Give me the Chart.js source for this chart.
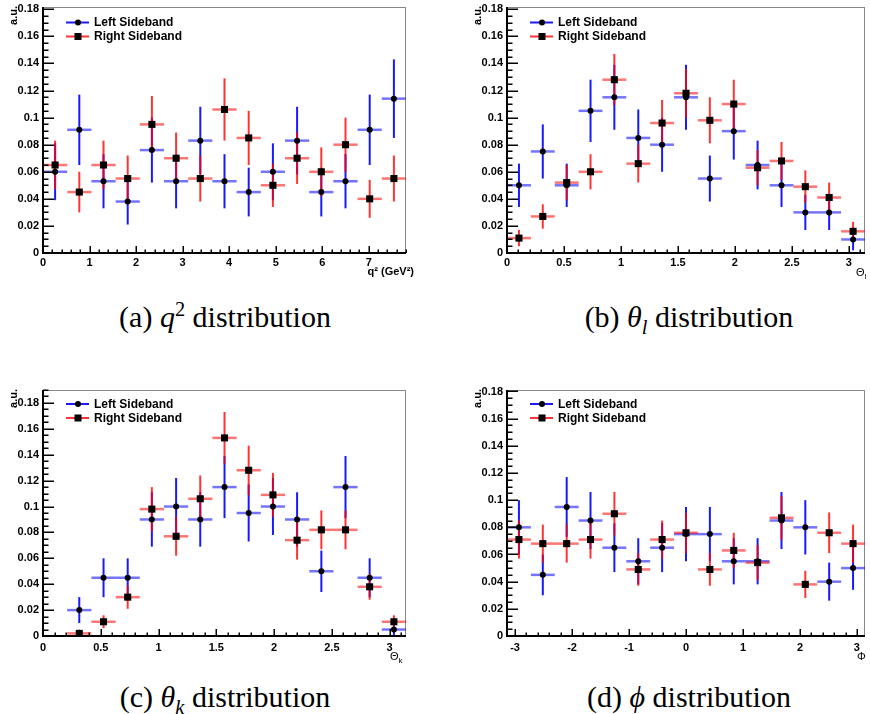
<!DOCTYPE html>
<html>
<head>
<meta charset="utf-8">
<script src="https://cdn.jsdelivr.net/npm/chart.js@4.4.1/dist/chart.umd.min.js"></script>
<style>
  body { margin: 0; background: #fff; width: 870px; height: 714px; position: relative; overflow: hidden; }
  canvas { position: absolute; }
  .cap { position: absolute; font-family: "Liberation Serif", serif; font-size: 30px; line-height: 34px; transform: translate(-50%, -50%); white-space: nowrap; color: #000; }
  .cap sup, .cap sub { font-size: 0.68em; line-height: 0; }
</style>
</head>
<body>
<canvas id="chartQ2" width="420" height="280" style="left:0;top:0"></canvas>
<canvas id="chartThetaL" width="430" height="280" style="left:440px;top:0"></canvas>
<canvas id="chartThetaK" width="420" height="290" style="left:0;top:375px"></canvas>
<canvas id="chartPhi" width="430" height="290" style="left:440px;top:375px"></canvas>

<div class="cap" style="left:225px;top:317px">(a) <i>q</i><sup>2</sup> distribution</div>
<div class="cap" style="left:689px;top:317px">(b) <i>θ<sub>l</sub></i> distribution</div>
<div class="cap" style="left:225px;top:697px">(c) <i>θ<sub>k</sub></i> distribution</div>
<div class="cap" style="left:689px;top:697px">(d) <i>ϕ</i> distribution</div>

<script>
// bin centres
const q2Bins = [0.26, 0.78, 1.30, 1.82, 2.34, 2.86, 3.38, 3.90, 4.42, 4.94, 5.46, 5.98, 6.50, 7.02, 7.54];
const thetaBins = [0.105, 0.314, 0.524, 0.733, 0.942, 1.152, 1.361, 1.571, 1.780, 1.990, 2.199, 2.409, 2.618, 2.827, 3.037];
const phiBins = [-2.932, -2.513, -2.094, -1.676, -1.257, -0.838, -0.419, 0, 0.419, 0.838, 1.257, 1.676, 2.094, 2.513, 2.932];

// q^2
const q2Left = [0.060, 0.091, 0.053, 0.038, 0.076, 0.053, 0.083, 0.053, 0.045, 0.060, 0.083, 0.045, 0.053, 0.091, 0.114];
const q2LeftErr = [0.021, 0.026, 0.020, 0.017, 0.024, 0.020, 0.025, 0.020, 0.018, 0.021, 0.025, 0.018, 0.020, 0.026, 0.029];
const q2Right = [0.065, 0.045, 0.065, 0.055, 0.095, 0.070, 0.055, 0.106, 0.085, 0.050, 0.070, 0.060, 0.080, 0.040, 0.055];
const q2RightErr = [0.018, 0.015, 0.018, 0.017, 0.021, 0.019, 0.017, 0.023, 0.020, 0.016, 0.019, 0.018, 0.020, 0.014, 0.017];

// theta_l
const thetaLLeft = [0.050, 0.075, 0.050, 0.105, 0.115, 0.085, 0.080, 0.115, 0.055, 0.090, 0.065, 0.050, 0.030, 0.030, 0.010];
const thetaLLeftErr = [0.016, 0.020, 0.016, 0.023, 0.024, 0.021, 0.020, 0.024, 0.017, 0.021, 0.018, 0.016, 0.013, 0.013, 0.008];
const thetaLRight = [0.011, 0.027, 0.052, 0.060, 0.128, 0.066, 0.096, 0.118, 0.098, 0.110, 0.063, 0.068, 0.049, 0.041, 0.016];
const thetaLRightErr = [0.006, 0.009, 0.013, 0.013, 0.019, 0.014, 0.017, 0.018, 0.017, 0.018, 0.013, 0.014, 0.012, 0.011, 0.007];

// theta_k (first bin empty)
const thetaKLeft = [null, 0.020, 0.045, 0.045, 0.090, 0.100, 0.090, 0.115, 0.095, 0.100, 0.090, 0.050, 0.115, 0.045, 0.005];
const thetaKLeftErr = [null, 0.010, 0.015, 0.015, 0.021, 0.022, 0.021, 0.024, 0.022, 0.022, 0.021, 0.016, 0.024, 0.015, 0.005];
const thetaKRight = [null, 0.002, 0.011, 0.030, 0.098, 0.077, 0.106, 0.153, 0.128, 0.109, 0.074, 0.082, 0.082, 0.038, 0.011];
const thetaKRightErr = [null, 0.003, 0.005, 0.009, 0.017, 0.015, 0.018, 0.020, 0.019, 0.017, 0.015, 0.015, 0.015, 0.010, 0.005];

// phi
const phiLeft = [0.080, 0.045, 0.095, 0.085, 0.065, 0.055, 0.065, 0.075, 0.075, 0.055, 0.055, 0.085, 0.080, 0.040, 0.050];
const phiLeftErr = [0.020, 0.015, 0.022, 0.021, 0.018, 0.017, 0.018, 0.020, 0.020, 0.017, 0.017, 0.021, 0.020, 0.014, 0.016];
const phiRight = [0.071, 0.068, 0.068, 0.071, 0.090, 0.049, 0.071, 0.076, 0.049, 0.063, 0.054, 0.087, 0.038, 0.076, 0.068];
const phiRightErr = [0.014, 0.014, 0.014, 0.014, 0.016, 0.012, 0.014, 0.015, 0.012, 0.013, 0.013, 0.016, 0.010, 0.015, 0.014];

// tick labels
const yTicks = [0, 0.02, 0.04, 0.06, 0.08, 0.1, 0.12, 0.14, 0.16, 0.18];
const q2Ticks = [0, 1, 2, 3, 4, 5, 6, 7];
const angleTicks = [0, 0.5, 1, 1.5, 2, 2.5, 3];
const phiTicks = [-3, -2, -1, 0, 1, 2, 3];

const legendLabels = ['Left Sideband', 'Right Sideband'];

const SANS = '"Liberation Sans", Arial, sans-serif';
const BLUE_H = 'rgba(0,0,255,0.55)';
const BLUE_V = 'rgba(0,0,255,0.9)';
const RED_H = 'rgba(255,0,0,0.55)';
const RED_V = 'rgba(255,0,0,0.8)';

// per-canvas settings for the plugin (kept out of chart options so
// Chart.js doesn't treat the title functions as scriptable options)
const panels = {};

function fmt(v) { return String(Math.round(v * 1000) / 1000); }

// error bars, frame and inward ticks, ROOT style
const rootStyle = {
  id: 'rootStyle',
  beforeDatasetsDraw(chart) {
    const { ctx, chartArea: a, scales: { x, y } } = chart;
    const o = panels[chart.canvas.id];
    ctx.save();

    // frame
    ctx.strokeStyle = '#888';
    ctx.lineWidth = 1;
    ctx.strokeRect(a.left + 0.5, a.top + 0.5, a.right - a.left - 1, a.bottom - a.top);

    // error bars
    chart.data.datasets.forEach((ds, di) => {
      const err = di === 0 ? o.leftErr : o.rightErr;
      const hCol = di === 0 ? BLUE_H : RED_H;
      const vCol = di === 0 ? BLUE_V : RED_V;
      ds.data.forEach((p, i) => {
        if (p.y === null) return;
        const e = err[i];
        const px = x.getPixelForValue(p.x);
        const py = y.getPixelForValue(p.y);
        ctx.strokeStyle = hCol;
        ctx.lineWidth = 2.5;
        ctx.beginPath();
        ctx.moveTo(x.getPixelForValue(p.x - o.halfWidth), py);
        ctx.lineTo(x.getPixelForValue(p.x + o.halfWidth), py);
        ctx.stroke();
        ctx.strokeStyle = vCol;
        ctx.lineWidth = 2;
        ctx.beginPath();
        ctx.moveTo(px, y.getPixelForValue(Math.max(p.y - e, 0)));
        ctx.lineTo(px, y.getPixelForValue(p.y + e));
        ctx.stroke();
      });
    });

    // axes
    ctx.strokeStyle = '#000';
    ctx.lineWidth = 2;
    ctx.beginPath();
    ctx.moveTo(a.left, a.top);
    ctx.lineTo(a.left, a.bottom);
    ctx.lineTo(a.right, a.bottom);
    ctx.stroke();

    // y ticks
    ctx.lineWidth = 1.5;
    ctx.beginPath();
    for (let v = 0; v <= y.max + 1e-9; v += 0.005) {
      const py = Math.round(y.getPixelForValue(v)) + 0.25;
      const major = Math.abs(v / 0.02 - Math.round(v / 0.02)) < 1e-6;
      ctx.moveTo(a.left, py);
      ctx.lineTo(a.left + (major ? 11 : 5.5), py);
    }
    // x ticks
    const start = Math.ceil((x.min - 1e-9) / o.xMinor) * o.xMinor;
    for (let v = start; v <= x.max + 1e-9; v += o.xMinor) {
      const px = Math.round(x.getPixelForValue(v)) + 0.25;
      const major = Math.abs(v / o.xMajor - Math.round(v / o.xMajor)) < 1e-6;
      ctx.moveTo(px, a.bottom);
      ctx.lineTo(px, a.bottom - (major ? 7 : 3.5));
    }
    ctx.stroke();
    ctx.restore();
  },
  afterDraw(chart) {
    const { ctx, chartArea: a } = chart;
    const o = panels[chart.canvas.id];
    ctx.save();

    // legend
    [BLUE_V, RED_V].forEach((col, i) => {
      const ly = a.top + o.legendY + i * 14;
      ctx.strokeStyle = col;
      ctx.lineWidth = 2;
      ctx.beginPath();
      ctx.moveTo(a.left + 23, ly);
      ctx.lineTo(a.left + 46, ly);
      ctx.stroke();
      ctx.fillStyle = '#000';
      if (i === 0) {
        ctx.beginPath();
        ctx.arc(a.left + 35, ly, 3, 0, Math.PI * 2);
        ctx.fill();
      } else {
        ctx.fillRect(a.left + 31.5, ly - 3.5, 7, 7);
      }
      ctx.font = 'bold 12px ' + SANS;
      ctx.textBaseline = 'middle';
      ctx.textAlign = 'left';
      ctx.fillText(legendLabels[i], a.left + 51, ly + 0.5);
    });

    // y title
    ctx.translate(a.left - 29, a.top - 1);
    ctx.rotate(-Math.PI / 2);
    ctx.font = 'bold 11px ' + SANS;
    ctx.textAlign = 'right';
    ctx.textBaseline = 'middle';
    ctx.fillText('a.u.', 0, 0);
    ctx.restore();

    // x title
    ctx.save();
    o.title(ctx, a);
    ctx.restore();
  }
};

function subTitle(main, sub, dx, dy) {
  return (ctx, a) => {
    ctx.fillStyle = '#000';
    ctx.textBaseline = 'middle';
    ctx.textAlign = 'left';
    ctx.font = '11px ' + SANS;
    const x0 = a.right + dx, y0 = a.bottom + dy;
    ctx.fillText(main, x0, y0);
    if (sub) {
      const w = ctx.measureText(main).width;
      ctx.font = '8px ' + SANS;
      ctx.fillText(sub, x0 + w, y0 + 4);
    }
  };
}

function makePanel(id, cfg) {
  const canvas = document.getElementById(id);
  const W = canvas.width, H = canvas.height;
  const A = cfg.area;
  panels[id] = cfg;
  const tickFont = { family: SANS, size: 11, weight: 'bold' };
  return new Chart(canvas, {
    type: 'scatter',
    data: {
      datasets: [
        {
          label: legendLabels[0],
          data: cfg.bins.map((b, i) => ({ x: b, y: cfg.left[i] })),
          pointStyle: 'circle', pointRadius: 3,
          backgroundColor: '#000', borderColor: '#000', borderWidth: 0,
          clip: false
        },
        {
          label: legendLabels[1],
          data: cfg.bins.map((b, i) => ({ x: b, y: cfg.right[i] })),
          pointStyle: 'rect', pointRadius: 5,
          backgroundColor: '#000', borderColor: '#000', borderWidth: 0,
          clip: false
        }
      ]
    },
    options: {
      responsive: false,
      animation: false,
      events: [],
      layout: { padding: { top: A.top, right: W - A.right, left: 0, bottom: 0 } },
      plugins: {
        legend: { display: false },
        tooltip: { enabled: false }
      },
      scales: {
        x: {
          type: 'linear',
          min: cfg.xMin, max: cfg.xMax,
          afterBuildTicks: s => { s.ticks = cfg.xTicks.map(v => ({ value: v })); },
          afterFit: s => { s.height = H - A.bottom; s.paddingLeft = 0; s.paddingRight = 0; },
          grid: { display: false, drawTicks: false },
          border: { display: false },
          ticks: { font: tickFont, color: '#000', padding: cfg.xPad, maxRotation: 0, autoSkip: false, callback: fmt }
        },
        y: {
          type: 'linear',
          min: 0, max: cfg.yMax,
          afterBuildTicks: s => { s.ticks = yTicks.map(v => ({ value: v })); },
          afterFit: s => { s.width = A.left; s.paddingTop = 0; s.paddingBottom = 0; },
          grid: { display: false, drawTicks: false },
          border: { display: false },
          ticks: { font: tickFont, color: '#000', padding: 4, autoSkip: false, callback: fmt }
        }
      }
    },
    plugins: [rootStyle]
  });
}

makePanel('chartQ2', {
  bins: q2Bins, halfWidth: 0.26,
  left: q2Left, leftErr: q2LeftErr, right: q2Right, rightErr: q2RightErr,
  xMin: 0, xMax: 7.8, yMax: 0.1817, xTicks: q2Ticks, xMajor: 1, xMinor: 0.2, xPad: 3,
  area: { left: 43, top: 7, right: 406, bottom: 253 }, legendY: 15.5,
  title: (ctx, a) => {
    ctx.fillStyle = '#000';
    ctx.font = 'bold 11px ' + SANS;
    ctx.textAlign = 'right';
    ctx.textBaseline = 'middle';
    ctx.fillText('q² (GeV²)', a.right + 8, a.bottom + 19);
  }
});

makePanel('chartThetaL', {
  bins: thetaBins, halfWidth: Math.PI / 30,
  left: thetaLLeft, leftErr: thetaLLeftErr, right: thetaLRight, rightErr: thetaLRightErr,
  xMin: 0, xMax: Math.PI, yMax: 0.1817, xTicks: angleTicks, xMajor: 0.5, xMinor: 0.1, xPad: 3,
  area: { left: 67, top: 7, right: 430, bottom: 253 }, legendY: 15.5,
  title: subTitle('Θ', 'l', -9, 20)
});

makePanel('chartThetaK', {
  bins: thetaBins, halfWidth: Math.PI / 30,
  left: thetaKLeft, leftErr: thetaKLeftErr, right: thetaKRight, rightErr: thetaKRightErr,
  xMin: 0, xMax: Math.PI, yMax: 0.19, xTicks: angleTicks, xMajor: 0.5, xMinor: 0.1, xPad: 5,
  area: { left: 43, top: 15, right: 406, bottom: 261 }, legendY: 14,
  title: subTitle('Θ', 'k', -16, 21)
});

makePanel('chartPhi', {
  bins: phiBins, halfWidth: Math.PI / 15,
  left: phiLeft, leftErr: phiLeftErr, right: phiRight, rightErr: phiRightErr,
  xMin: -Math.PI, xMax: Math.PI, yMax: 0.1811, xTicks: phiTicks, xMajor: 1, xMinor: 0.2, xPad: 5,
  area: { left: 67, top: 15, right: 430, bottom: 261 }, legendY: 14,
  title: subTitle('Φ', '', -8, 21)
});
</script>
</body>
</html>
